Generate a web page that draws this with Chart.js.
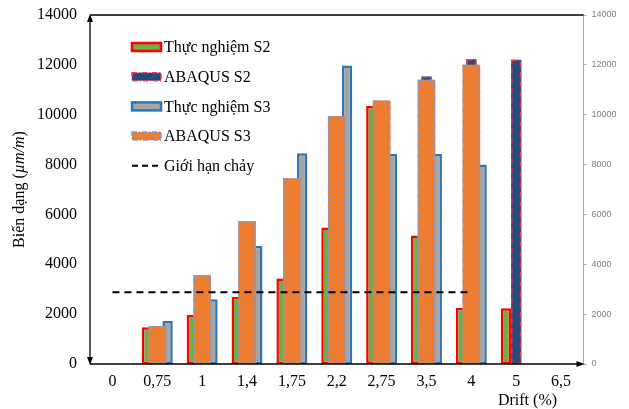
<!DOCTYPE html>
<html>
<head>
<meta charset="utf-8">
<script src="https://cdn.jsdelivr.net/npm/chart.js@4.4.1/dist/chart.umd.min.js"></script>
<style>
html,body{margin:0;padding:0;background:#ffffff;}
#wrap{width:629px;height:409px;position:relative;}
</style>
</head>
<body>
<div id="wrap"><canvas id="c" width="629" height="409"></canvas></div>
<script>
// ---- data ----
const categories = ['0', '0,75', '1', '1,4', '1,75', '2,2', '2,75', '3,5', '4', '5', '6,5'];
const thucNghiemS2 = [null, 1470, 1965, 2700, 3430, 5480, 10350, 5150, 2260, 2240, null];
const abaqusS2     = [null, 1450, 3400, 5550, 7250, 9750, 10400, 11530, 12220, 12200, null];
const thucNghiemS3 = [null, 1725, 2600, 4745, 8450, 11970, 8420, 8420, 8000, null, null];
const abaqusS3     = [null, 1525, 3570, 5740, 7450, 9950, 10570, 11400, 12000, null, null];
const gioiHanChay  = [2880, 2880, 2880, 2880, 2880, 2880, 2880, 2880, 2880, null, null];
const emptySlot    = [null, null, null, null, null, null, null, null, null, null, null];
const yMin = 0, yMax = 14000, yStep = 2000;

const SERIF = '"Liberation Serif","Times New Roman",serif';
const SANS = '"Liberation Sans",Arial,sans-serif';

// dashed borders for bars (Chart.js bars have no borderDash)
const dashedBorder = {
  id: 'dashedBorder',
  afterDatasetDraw(chart, args) {
    const ds = chart.data.datasets[args.index];
    if (!ds.dashBorder) return;
    const ctx = chart.ctx;
    ctx.save();
    ctx.strokeStyle = ds.dashBorder.color;
    ctx.lineWidth = ds.dashBorder.width;
    ctx.setLineDash(ds.dashBorder.dash);
    args.meta.data.forEach((el, i) => {
      if (ds.data[i] == null) return;
      const p = el.getProps(['x', 'y', 'base', 'width'], true);
      const lw = ds.dashBorder.width;
      ctx.strokeRect(p.x - p.width / 2 + lw / 2, p.y + lw / 2, p.width - lw, p.base - p.y - lw);
    });
    ctx.restore();
  }
};

// axis lines with arrows, titles, legend
const decor = {
  id: 'decor',
  afterDraw(chart) {
    const ctx = chart.ctx;
    const {left, right, top, bottom} = chart.chartArea;
    ctx.save();
    ctx.strokeStyle = '#000';
    ctx.fillStyle = '#000';
    ctx.lineWidth = 1.3;
    ctx.setLineDash([]);
    ctx.beginPath();
    ctx.moveTo(left, top); ctx.lineTo(right, top);
    ctx.moveTo(left, top + 3); ctx.lineTo(left, bottom - 3);
    ctx.moveTo(left, bottom); ctx.lineTo(right - 4, bottom);
    ctx.stroke();
    const tri = (a, b, c) => { ctx.beginPath(); ctx.moveTo(a[0], a[1]); ctx.lineTo(b[0], b[1]); ctx.lineTo(c[0], c[1]); ctx.closePath(); ctx.fill(); };
    tri([left, top - 1], [left - 3, top + 7], [left + 3, top + 7]);
    tri([left, bottom + 1], [left - 3, bottom - 7], [left + 3, bottom - 7]);
    tri([right + 1, bottom], [right - 7, bottom - 3], [right - 7, bottom + 3]);

    // y title
    ctx.save();
    ctx.translate(20, (top + bottom) / 2);
    ctx.rotate(-Math.PI / 2);
    const parts = [['Biến dạng (', 'normal'], ['µm/m', 'italic'], [')', 'normal']];
    let total = 0;
    parts.forEach(p => { ctx.font = p[1] + ' 16px ' + SERIF; p.push(ctx.measureText(p[0]).width); total += p[2]; });
    let x = -total / 2;
    ctx.textBaseline = 'middle';
    ctx.textAlign = 'left';
    parts.forEach(p => { ctx.font = p[1] + ' 16px ' + SERIF; ctx.fillText(p[0], x, 0); x += p[2]; });
    ctx.restore();

    // x title
    ctx.font = '16px ' + SERIF;
    ctx.textAlign = 'center';
    ctx.textBaseline = 'middle';
    ctx.fillText('Drift (%)', right - 56, bottom + 37);

    // legend (series order as in the reference)
    const items = chart.data.datasets.filter(d => d.legendRank).sort((a, b) => a.legendRank - b.legendRank);
    const lx = left + 42, ly0 = top + 32, dy = 29.7, bw = 29, bh = 8;
    items.forEach((ds, i) => {
      const cy = ly0 + i * dy;
      ctx.save();
      if (ds.type === 'line') {
        ctx.strokeStyle = ds.borderColor;
        ctx.lineWidth = 2;
        ctx.setLineDash([6, 4]);
        ctx.beginPath(); ctx.moveTo(lx, cy); ctx.lineTo(lx + bw, cy); ctx.stroke();
      } else {
        ctx.fillStyle = ds.backgroundColor;
        ctx.fillRect(lx, cy - bh / 2, bw, bh);
        if (ds.dashBorder) {
          ctx.strokeStyle = ds.dashBorder.color;
          ctx.lineWidth = ds.dashBorder.width;
          ctx.setLineDash(ds.dashBorder.dash);
        } else {
          ctx.strokeStyle = ds.borderColor;
          ctx.lineWidth = 2.5;
        }
        ctx.strokeRect(lx, cy - bh / 2, bw, bh);
      }
      ctx.restore();
      ctx.fillStyle = '#000';
      ctx.font = '16px ' + SERIF;
      ctx.textAlign = 'left';
      ctx.textBaseline = 'middle';
      ctx.fillText(ds.label, lx + bw + 3, cy + 1);
    });
    ctx.restore();
  }
};

const barCommon = {type: 'bar', xAxisID: 'x', yAxisID: 'y', barPercentage: 1, categoryPercentage: 0.69};

new Chart(document.getElementById('c'), {
  type: 'bar',
  data: {
    labels: categories,
    datasets: [
      // empty placeholder that fixes the left slot first (draws nothing)
      Object.assign({}, barCommon, {label: '', data: emptySlot, stack: 'A', backgroundColor: 'rgba(0,0,0,0)', borderWidth: 0}),
      // ABAQUS S3: drawn on top, wider bar in the middle slot
      Object.assign({}, barCommon, {
        label: 'ABAQUS S3', data: abaqusS3, stack: 'B', legendRank: 4,
        backgroundColor: '#ED7D31', borderWidth: 0, barPercentage: 1.71,
        dashBorder: {color: '#7A9BD6', width: 1.5, dash: [5, 2, 1, 2]}
      }),
      Object.assign({}, barCommon, {
        label: 'Thực nghiệm S2', data: thucNghiemS2, stack: 'A', legendRank: 1,
        backgroundColor: '#70AD47', borderColor: '#FF0000', borderWidth: 2.5, borderSkipped: false
      }),
      Object.assign({}, barCommon, {
        label: 'ABAQUS S2', data: abaqusS2, stack: 'B', legendRank: 2,
        backgroundColor: '#284A7E', borderWidth: 0,
        dashBorder: {color: '#E8404A', width: 1.5, dash: [5, 2, 1, 2]}
      }),
      Object.assign({}, barCommon, {
        label: 'Thực nghiệm S3', data: thucNghiemS3, stack: 'C', legendRank: 3,
        backgroundColor: '#A5A5A5', borderColor: '#2E75B6', borderWidth: 2.5, borderSkipped: false
      }),
      {
        type: 'line', label: 'Giới hạn chảy', data: gioiHanChay, legendRank: 5,
        xAxisID: 'x', yAxisID: 'y', order: -1,
        borderColor: '#000000', borderWidth: 2, borderDash: [7, 5],
        pointRadius: 0, fill: false, spanGaps: false
      }
    ]
  },
  options: {
    responsive: false,
    animation: false,
    layout: {padding: {top: 15, left: 0, right: 0, bottom: 0}},
    plugins: {legend: {display: false}, tooltip: {enabled: false}},
    scales: {
      x: {
        type: 'category', labels: categories, position: 'bottom', offset: true,
        grid: {display: false, drawTicks: false}, border: {display: false},
        ticks: {color: '#000', font: {family: SERIF, size: 16}, padding: 8, maxRotation: 0, autoSkip: false},
        afterFit(s) { s.height = 45; }
      },
      y: {
        position: 'left', min: yMin, max: yMax, stacked: false,
        grid: {display: false, drawTicks: false}, border: {display: false},
        ticks: {stepSize: yStep, color: '#000', font: {family: SERIF, size: 16}, padding: 13, callback: v => String(v)},
        afterFit(s) { s.width = 90; s.paddingTop = 0; s.paddingBottom = 0; }
      },
      y2: {
        position: 'right', min: yMin, max: yMax, stacked: false,
        grid: {drawOnChartArea: false, drawTicks: true, tickLength: 3, color: '#a6a6a6'},
        border: {display: true, color: '#a6a6a6', width: 1},
        ticks: {stepSize: yStep, color: '#7f7f7f', font: {family: SANS, size: 9}, padding: 5, callback: v => String(v)},
        afterFit(s) { s.width = 45.5; s.paddingTop = 0; s.paddingBottom = 0; }
      }
    }
  },
  plugins: [dashedBorder, decor]
});
</script>
</body>
</html>
